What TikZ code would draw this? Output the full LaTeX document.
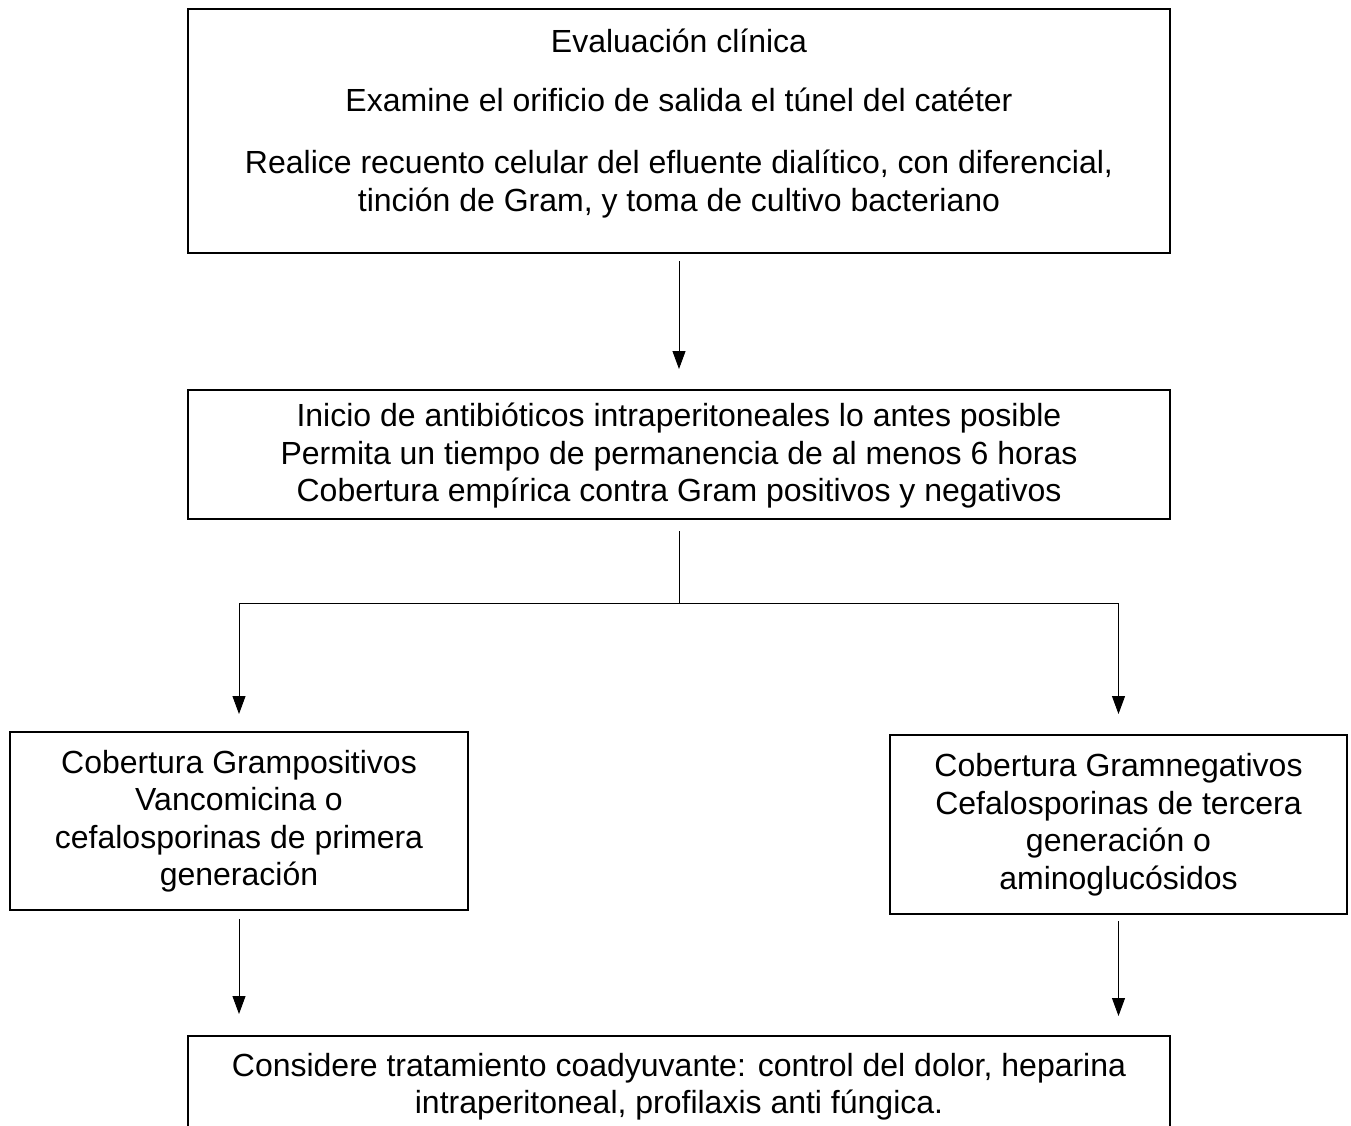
\documentclass[tikz,border=0pt]{standalone}
\usepackage{fontspec}
\setmainfont{Liberation Sans}
\usetikzlibrary{arrows.meta,calc}
\begin{document}
\begin{tikzpicture}[x=1pt,y=-1pt,
  box/.style={draw,line width=2pt,rectangle,inner sep=0pt,align=center,
    font=\fontsize{32}{37.5}\selectfont},
  txt/.style={align=center,inner sep=0pt,font=\fontsize{32}{37.5}\selectfont},
  arr/.style={line width=0.9pt,-{Triangle[length=18pt,width=13pt]}},
  ln/.style={line width=0.9pt}]
\clip (0,0) rectangle (1351,1126);
\fill[white] (0,0) rectangle (1351,1126);
\useasboundingbox (0,0) rectangle (1351,1126);

\node[box,minimum width=982,minimum height=244] (b1) at (679,131) {};
\node[txt] (t1) at (679,123.5) {Evaluación clínica\\[21.5pt]
  Examine el orificio de salida el túnel del catéter\\[24.5pt]
  Realice recuento celular del efluente dialítico, con diferencial,\\
  tinción de Gram, y toma de cultivo bacteriano};

\node[box,minimum width=982,minimum height=129] (b2) at (679,454.5) {\rule{0pt}{26pt}Inicio de antibióticos intraperitoneales lo antes posible\\
  Permita un tiempo de permanencia de al menos 6 horas\\
  Cobertura empírica contra Gram positivos y negativos};

\node[box,minimum width=458,minimum height=178] (b3) at (239,821) {Cobertura Grampositivos\\
  Vancomicina o\\ cefalosporinas de primera\\ generación};

\node[box,minimum width=457,minimum height=179] (b4) at (1118.5,824.5) {Cobertura Gramnegativos\\
  Cefalosporinas de tercera\\ generación o\\ aminoglucósidos};

\node[box,minimum width=982,minimum height=97] (b5) at (679,1084.5) {\rule{0pt}{28pt}Considere tratamiento coadyuvante: control del dolor, heparina\\
  intraperitoneal, profilaxis anti fúngica.};

\coordinate (j) at (b2.south |- 0,603);
\coordinate (hl) at (b3.north |- 0,603);
\coordinate (hr) at (b4.north |- 0,603);

\draw[arr] ([yshift=-7pt]b1.south) -- ([yshift=20pt]b2.north);
\draw[ln] ([yshift=-11pt]b2.south) -- (j);
\draw[ln] (hl) -- (hr);
\draw[arr] (hl) -- ([yshift=17pt]b3.north);
\draw[arr] (hr) -- ([yshift=20pt]b4.north);
\draw[arr] ([yshift=-8pt]b3.south) -- ([yshift=21pt]b5.north -| b3.south);
\draw[arr] ([yshift=-6pt]b4.south) -- ([yshift=19pt]b5.north -| b4.south);
\end{tikzpicture}
\end{document}
